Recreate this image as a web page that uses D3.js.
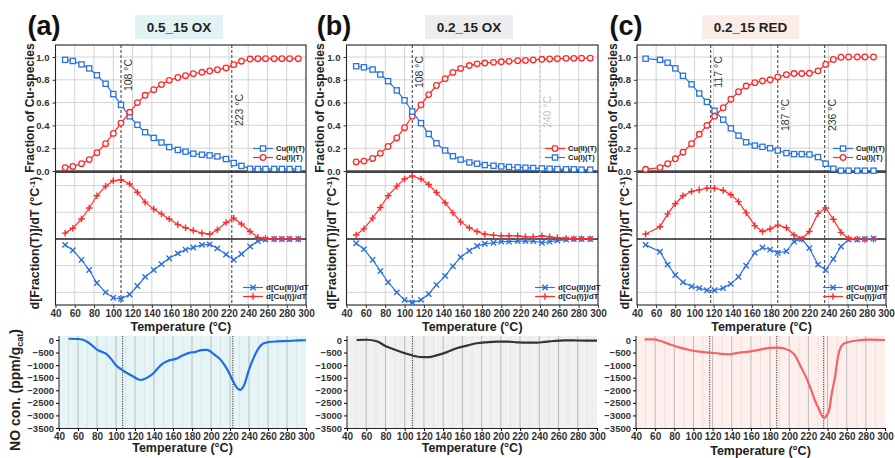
<!DOCTYPE html>
<html lang="en">
<head>
<meta charset="UTF-8">
<title>Cu species fractions</title>
<script src="https://d3js.org/d3.v7.min.js"></script>
<style>
    body { margin: 0; background: #fff; }
    text { font-family: "Liberation Sans", Arial, sans-serif; }
</style>
</head>
<body>
<script>
    // temperatures of the fitted points (°C)
    var tempsAB = [50, 58, 67, 75, 83, 92, 100, 108, 117, 125, 133, 142, 150, 158, 167, 175, 183, 192, 200, 208, 217, 225, 233, 242, 250, 258, 267, 275, 283, 292];
    var tempsC = [49, 64, 72, 80, 88, 97, 105, 113, 121, 130, 138, 146, 154, 163, 171, 179, 187, 196, 204, 212, 220, 229, 237, 245, 253, 261, 270, 278, 287];

    // (a) 0.5_15 OX
    var cu2A = [0.975, 0.965, 0.935, 0.90, 0.84, 0.765, 0.675, 0.58, 0.48, 0.405, 0.34, 0.29, 0.25, 0.21, 0.185, 0.17, 0.152, 0.143, 0.137, 0.128, 0.105, 0.07, 0.045, 0.02, 0.018, 0.018, 0.018, 0.018, 0.018, 0.018];
    var cu1A = [0.03, 0.04, 0.064, 0.10, 0.16, 0.24, 0.33, 0.42, 0.515, 0.60, 0.664, 0.713, 0.758, 0.795, 0.82, 0.836, 0.854, 0.866, 0.877, 0.889, 0.904, 0.933, 0.963, 0.982, 0.985, 0.985, 0.985, 0.985, 0.985, 0.985];
    // derivatives, in 1e-3 /°C
    var dCu2A = [-1.1, -2.1, -3.9, -5.8, -8.25, -10.0, -11.0, -11.2, -10.4, -8.8, -7.1, -5.8, -4.7, -3.6, -2.7, -2.0, -1.6, -1.1, -1.0, -1.75, -2.9, -3.9, -2.8, -1.4, -0.4, -0.1, 0, 0, 0, 0];
    var dCu1A = [1.1, 2.0, 3.75, 5.8, 8.1, 9.9, 10.9, 11.1, 10.3, 8.75, 6.9, 5.6, 4.7, 3.75, 2.7, 2.1, 1.6, 1.1, 0.9, 1.7, 3.1, 3.9, 2.8, 1.4, 0.3, 0.1, 0, 0, 0, 0];
    var noTempA = [50, 60, 65, 70, 75, 80, 85, 90, 95, 100, 106, 112, 118, 122, 126, 130, 135, 140, 145, 150, 156, 163, 170, 177, 184, 190, 196, 201, 205, 210, 215, 220, 224, 228, 231, 235, 240, 245, 250, 255, 261, 270, 280, 292, 300];
    var noA = [50, 40, 10, -80, -220, -380, -470, -560, -760, -1000, -1180, -1320, -1450, -1540, -1590, -1550, -1450, -1300, -1080, -920, -810, -750, -620, -510, -470, -400, -390, -500, -620, -780, -1040, -1380, -1700, -1930, -1980, -1780, -1180, -700, -330, -140, -80, -55, -40, -15, -10];

    // (b) 0.2_15 OX
    var redB = [0.08, 0.087, 0.11, 0.155, 0.215, 0.29, 0.38, 0.48, 0.58, 0.67, 0.75, 0.81, 0.865, 0.90, 0.925, 0.94, 0.947, 0.953, 0.958, 0.962, 0.968, 0.97, 0.974, 0.98, 0.983, 0.985, 0.988, 0.988, 0.99, 0.99];
    var blueB = [0.919, 0.91, 0.89, 0.846, 0.788, 0.707, 0.62, 0.522, 0.42, 0.325, 0.243, 0.18, 0.13, 0.10, 0.075, 0.064, 0.052, 0.046, 0.04, 0.035, 0.032, 0.029, 0.026, 0.023, 0.02, 0.017, 0.015, 0.015, 0.012, 0.012];
    var dCu2B = [-0.8, -1.9, -3.9, -6.0, -8.1, -10.0, -11.4, -11.9, -11.4, -10.3, -8.6, -6.9, -5.1, -3.4, -2.2, -1.3, -0.9, -0.7, -0.5, -0.5, -0.4, -0.4, -0.4, -0.7, -0.5, -0.3, -0.1, 0, 0, 0];
    var dCu1B = [0.75, 1.9, 3.9, 5.9, 8.1, 9.9, 11.25, 11.8, 11.25, 10.2, 8.7, 6.8, 4.9, 3.2, 2.1, 1.4, 0.9, 0.7, 0.6, 0.6, 0.6, 0.4, 0.4, 0.6, 0.4, 0.25, 0.1, 0.05, 0.05, 0.05];
    var noTempB = [50, 60, 71, 81, 92, 102, 109, 116, 125, 133, 144, 154, 165, 175, 185, 196, 206, 217, 227, 238, 245, 255, 266, 280, 300];
    var noB = [0, 10, -50, -260, -416, -546, -625, -677, -680, -611, -481, -325, -221, -130, -91, -65, -65, -91, -104, -104, -78, -39, -13, -20, -26];

    // (c) 0.2_15 RED
    var cu2C = [0.985, 0.975, 0.95, 0.90, 0.835, 0.76, 0.68, 0.606, 0.528, 0.45, 0.374, 0.31, 0.252, 0.223, 0.212, 0.20, 0.18, 0.157, 0.148, 0.148, 0.145, 0.122, 0.064, 0.02, 0.003, 0.003, 0.003, 0.003, 0.003];
    var cu1C = [0.015, 0.03, 0.064, 0.107, 0.165, 0.24, 0.322, 0.40, 0.48, 0.555, 0.63, 0.695, 0.745, 0.775, 0.79, 0.80, 0.825, 0.845, 0.855, 0.855, 0.857, 0.878, 0.935, 0.978, 0.998, 1.0, 1.0, 1.0, 1.0];
    var dCu2C = [-1.1, -2.4, -4.8, -6.75, -8.1, -8.9, -9.2, -9.6, -9.6, -9.2, -8.4, -7.1, -5.0, -2.6, -1.6, -2.0, -2.6, -2.3, -0.5, 0, -1.7, -4.8, -5.8, -3.75, -1.4, -0.1, -0.1, 0, 0.1];
    var dCu1C = [0.94, 2.3, 4.7, 6.6, 8.1, 8.9, 9.2, 9.5, 9.5, 9.1, 8.3, 7.0, 4.9, 2.5, 1.4, 1.9, 2.6, 2.1, 0.75, 0, 1.4, 4.8, 5.8, 3.7, 1.25, 0.1, 0, -0.1, -0.05];
    var noTempC = [49, 58, 66, 75, 86, 96, 106, 117, 127, 137, 148, 158, 168, 179, 188, 195, 201, 206, 210, 213, 217, 222, 227, 231, 234, 236.5, 239, 242, 244, 248, 251, 256, 262, 272, 282, 300];
    var noC = [26, 26, -40, -172, -304, -396, -462, -502, -541, -568, -502, -462, -396, -317, -304, -343, -436, -607, -898, -1136, -1426, -1890, -2417, -2747, -3011, -3104, -3011, -2747, -2219, -1426, -634, -172, -79, -13, 13, 0];

    var xTicks = [40, 60, 80, 100, 120, 140, 160, 180, 200, 220, 240, 260, 280, 300];
    var fracTicks = [0, 0.2, 0.4, 0.6, 0.8, 1.0];
    var derivGrid = [-10, -5, 5, 10];
    var noTicks = [0, -500, -1000, -1500, -2000, -2500, -3000, -3500];

    var BLUE = "#2a72e0", RED = "#ff2b2b";

    var panels = [
        {
            tag: "(a)", tagX: 44, title: "0.5_15 OX", boxX: 135, boxW: 88, boxFill: "#e1f3f3",
            x0: 55.5, x1: 306, bx0: 59, bx1: 306, temps: tempsAB,
            top: [{ name: "Cu(II)(T)", vals: cu2A, color: BLUE, shape: "square" },
                  { name: "Cu(I)(T)", vals: cu1A, color: RED, shape: "circle" }],
            mid: [{ name: "d[Cu(II)]/dT", vals: dCu2A, color: BLUE, shape: "x" },
                  { name: "d[Cu(I)]/dT", vals: dCu1A, color: RED, shape: "plus" }],
            marks: [{ t: 108, label: "108 °C", ly: 75 }, { t: 223, label: "223 °C", ly: 110 }],
            noT: noTempA, no: noA, noColor: "#1b6fe2", noBg: "#e5f5f6", noMarks: [107, 223],
            yTitleX: 34, midTitleX: 39, bottomTitleY: 452, noTitle: true
        },
        {
            tag: "(b)", tagX: 334, title: "0.2_15 OX", boxX: 425, boxW: 88, boxFill: "#ededed",
            x0: 346.5, x1: 598, bx0: 347, bx1: 597, temps: tempsAB,
            top: [{ name: "Cu(II)(T)", vals: redB, color: RED, shape: "circle" },
                  { name: "Cu(I)(T)", vals: blueB, color: BLUE, shape: "square" }],
            mid: [{ name: "d[Cu(II)]/dT", vals: dCu2B, color: BLUE, shape: "x" },
                  { name: "d[Cu(I)]/dT", vals: dCu1B, color: RED, shape: "plus" }],
            marks: [{ t: 108, label: "108 °C", ly: 72 }, { t: 240, label: "240 °C", ly: 112, faint: true }],
            noT: noTempB, no: noB, noColor: "#333333", noBg: "#f0f0f0", noMarks: [108],
            yTitleX: 324, midTitleX: 336, bottomTitleY: 452, noTitle: false
        },
        {
            tag: "(c)", tagX: 626, title: "0.2_15 RED", boxX: 702, boxW: 97, boxFill: "#fcece7",
            x0: 637, x1: 886, bx0: 636, bx1: 885, temps: tempsC,
            top: [{ name: "Cu(II)(T)", vals: cu2C, color: BLUE, shape: "square" },
                  { name: "Cu(I)(T)", vals: cu1C, color: RED, shape: "circle" }],
            mid: [{ name: "d[Cu(II)]/dT", vals: dCu2C, color: BLUE, shape: "x" },
                  { name: "d[Cu(I)]/dT", vals: dCu1C, color: RED, shape: "plus" }],
            marks: [{ t: 117, label: "117 °C", ly: 72 }, { t: 187, label: "187 °C", ly: 115 }, { t: 236, label: "236 °C", ly: 115 }],
            noT: noTempC, no: noC, noColor: "#f36565", noBg: "#fdf0ec", noMarks: [117, 187, 236],
            yTitleX: 617, midTitleX: 629, bottomTitleY: 455, noTitle: false
        }
    ];

    var svg = d3.select("body").append("svg")
        .attr("width", 895).attr("height", 458)
        .style("background", "#fff");

    var TOP0 = 45, TOP1 = 171.6, MID1 = 305;
    var yTop = d3.scaleLinear().domain([0, 1]).range([171, 57]);
    var yMid = d3.scaleLinear().domain([-5, 5]).range([239 + 26.7, 239 - 26.7]);
    var yNo = d3.scaleLinear().domain([-3500, 0]).range([428, 340]);

    function drawMarker(g, shape, color, x, y) {
        if (shape === "square") {
            g.append("rect").attr("x", x - 2.6).attr("y", y - 2.6).attr("width", 5.2).attr("height", 5.2)
                .attr("fill", "#fff").attr("stroke", color).attr("stroke-width", 1.3);
        } else if (shape === "circle") {
            g.append("circle").attr("cx", x).attr("cy", y).attr("r", 2.8)
                .attr("fill", "#fff").attr("stroke", color).attr("stroke-width", 1.3);
        } else if (shape === "plus") {
            g.append("path").attr("d", "M" + (x - 3.3) + "," + y + "H" + (x + 3.3) + "M" + x + "," + (y - 3.3) + "V" + (y + 3.3))
                .attr("stroke", color).attr("stroke-width", 1.4).attr("fill", "none");
        } else {
            g.append("path").attr("d", "M" + (x - 2.7) + "," + (y - 2.7) + "L" + (x + 2.7) + "," + (y + 2.7) + "M" + (x - 2.7) + "," + (y + 2.7) + "L" + (x + 2.7) + "," + (y - 2.7))
                .attr("stroke", color).attr("stroke-width", 1.4).attr("fill", "none");
        }
    }

    panels.forEach(function (p) {
        var x = d3.scaleLinear().domain([40, 300]).range([p.x0, p.x1]);
        var xb = d3.scaleLinear().domain([40, 300]).range([p.bx0, p.bx1]);
        var g = svg.append("g");

        // tag and sample title
        g.append("text").attr("x", p.tagX).attr("y", 35).attr("text-anchor", "middle")
            .attr("font-size", 27).attr("font-weight", "bold").attr("fill", "#111").text(p.tag);
        g.append("rect").attr("x", p.boxX).attr("y", 15).attr("width", p.boxW).attr("height", 24).attr("fill", p.boxFill);
        g.append("text").attr("x", p.boxX + p.boxW / 2).attr("y", 32).attr("text-anchor", "middle")
            .attr("font-size", 13.5).attr("font-weight", "bold").attr("fill", "#222").text(p.title);

        // grids
        g.selectAll(".vg").data(xTicks.slice(1, -1)).enter().append("line")
            .attr("x1", function (d) { return x(d); }).attr("x2", function (d) { return x(d); })
            .attr("y1", TOP0).attr("y2", MID1).attr("stroke", "#cfcfcf").attr("stroke-width", 0.9);
        g.selectAll(".hg").data(fracTicks.slice(1)).enter().append("line")
            .attr("x1", p.x0).attr("x2", p.x1)
            .attr("y1", function (d) { return yTop(d); }).attr("y2", function (d) { return yTop(d); })
            .attr("stroke", "#cfcfcf").attr("stroke-width", 0.9);
        g.selectAll(".mg").data(derivGrid).enter().append("line")
            .attr("x1", p.x0).attr("x2", p.x1)
            .attr("y1", function (d) { return yMid(d); }).attr("y2", function (d) { return yMid(d); })
            .attr("stroke", "#cfcfcf").attr("stroke-width", 0.9);

        // frames
        g.append("rect").attr("x", p.x0).attr("y", TOP0).attr("width", p.x1 - p.x0).attr("height", MID1 - TOP0)
            .attr("fill", "none").attr("stroke", "#222").attr("stroke-width", 1.1);
        g.append("line").attr("x1", p.x0).attr("x2", p.x1).attr("y1", TOP1).attr("y2", TOP1)
            .attr("stroke", "#444").attr("stroke-width", 2.6);
        g.append("line").attr("x1", p.x0).attr("x2", p.x1).attr("y1", yMid(0)).attr("y2", yMid(0))
            .attr("stroke", "#222").attr("stroke-width", 1.3);

        // top y axis
        var ay = g.append("g").attr("transform", "translate(" + p.x0 + ",0)")
            .call(d3.axisLeft(yTop).tickValues(fracTicks).tickFormat(d3.format(".1f")).tickSize(3));
        ay.select(".domain").remove();
        ay.selectAll("text").attr("font-size", 9.5).attr("font-weight", "bold").attr("fill", "#333")
            .style("font-family", "Liberation Sans, Arial, sans-serif");
        ay.selectAll("line").attr("stroke", "#333");

        // x axis of middle plot
        var ax = g.append("g").attr("transform", "translate(0," + MID1 + ")")
            .call(d3.axisBottom(x).tickValues(xTicks).tickSize(3).tickPadding(2));
        ax.select(".domain").remove();
        ax.selectAll("text").attr("font-size", 10).attr("font-weight", "bold").attr("fill", "#333")
            .style("font-family", "Liberation Sans, Arial, sans-serif");
        ax.selectAll("line").attr("stroke", "#333");

        // vertical marker lines
        p.marks.forEach(function (m) {
            g.append("line").attr("x1", x(m.t)).attr("x2", x(m.t)).attr("y1", TOP0).attr("y2", MID1)
                .attr("stroke", m.faint ? "#c8c8c8" : "#333").attr("stroke-width", 1)
                .attr("stroke-dasharray", "3,2");
            g.append("text").attr("transform", "translate(" + (x(m.t) + 11) + "," + m.ly + ") rotate(-90)")
                .attr("text-anchor", "middle").attr("font-size", 10.5)
                .attr("fill", m.faint ? "#c4c4c4" : "#333").text(m.label);
        });

        // series
        function drawSeries(list, yScale) {
            list.forEach(function (s) {
                var pts = p.temps.map(function (t, i) { return [t, s.vals[i]]; });
                g.append("path").datum(pts)
                    .attr("d", d3.line().x(function (d) { return x(d[0]); }).y(function (d) { return yScale(d[1]); }))
                    .attr("fill", "none").attr("stroke", s.color).attr("stroke-width", 1.2);
                pts.forEach(function (d) { drawMarker(g, s.shape, s.color, x(d[0]), yScale(d[1])); });
            });
        }
        drawSeries(p.top, yTop);
        drawSeries(p.mid, yMid);

        // legends
        function legend(list, lx, ly, size) {
            list.forEach(function (s, i) {
                var yy = ly + i * 9;
                g.append("line").attr("x1", lx).attr("x2", lx + 20).attr("y1", yy).attr("y2", yy)
                    .attr("stroke", s.color).attr("stroke-width", 1.2);
                drawMarker(g, s.shape, s.color, lx + 10, yy);
                g.append("text").attr("x", lx + 23).attr("y", yy + 2.8).attr("font-size", size)
                    .attr("font-weight", "bold").attr("fill", "#222").text(s.name);
            });
        }
        legend(p.top, p.x1 - 53, 148.5, 7.5);
        legend(p.mid, p.x1 - 63, 287.5, 8);

        // axis titles
        g.append("text").attr("transform", "translate(" + p.yTitleX + "," + 108 + ") rotate(-90)")
            .attr("text-anchor", "middle").attr("font-size", 12).attr("font-weight", "bold").attr("fill", "#222")
            .text("Fraction of Cu-species");
        var mt = g.append("text").attr("transform", "translate(" + p.midTitleX + "," + 243 + ") rotate(-90)")
            .attr("text-anchor", "middle").attr("font-size", 12.5).attr("font-weight", "bold").attr("fill", "#222");
        mt.append("tspan").text("d[Fraction(T)]/dT (°C");
        mt.append("tspan").attr("dy", -4).attr("font-size", 8).text("-1");
        mt.append("tspan").attr("dy", 4).text(")");
        g.append("text").attr("x", (p.x0 + p.x1) / 2).attr("y", 331).attr("text-anchor", "middle")
            .attr("font-size", 12.5).attr("font-weight", "bold").attr("fill", "#222").text("Temperature (°C)");

        // NO concentration plot
        g.append("rect").attr("x", xb(40)).attr("y", 336).attr("width", xb(300) - xb(40)).attr("height", 428 - 336)
            .attr("fill", p.noBg);
        var minor = d3.range(50, 300, 20);
        g.selectAll(".nm").data(minor).enter().append("line")
            .attr("x1", function (d) { return xb(d); }).attr("x2", function (d) { return xb(d); })
            .attr("y1", 336).attr("y2", 428).attr("stroke", "#e0e0e0").attr("stroke-width", 0.8);
        g.selectAll(".nM").data(xTicks.slice(1, -1)).enter().append("line")
            .attr("x1", function (d) { return xb(d); }).attr("x2", function (d) { return xb(d); })
            .attr("y1", 336).attr("y2", 428).attr("stroke", "#b4b4b4").attr("stroke-width", 0.9);
        p.noMarks.forEach(function (t) {
            g.append("line").attr("x1", xb(t)).attr("x2", xb(t)).attr("y1", 336).attr("y2", 428)
                .attr("stroke", "#333").attr("stroke-width", 1).attr("stroke-dasharray", "1.2,1.2");
        });
        var noPts = p.noT.map(function (t, i) { return [t, p.no[i]]; });
        g.append("path").datum(noPts)
            .attr("d", d3.line().curve(d3.curveMonotoneX)
                .x(function (d) { return xb(d[0]); }).y(function (d) { return yNo(d[1]); }))
            .attr("fill", "none").attr("stroke", p.noColor).attr("stroke-width", 2.2);

        var bay = g.append("g").attr("transform", "translate(" + p.bx0 + ",0)")
            .call(d3.axisLeft(yNo).tickValues(noTicks).tickFormat(d3.format("d")).tickSize(3).tickPadding(2));
        bay.select(".domain").attr("d", "M0,336V428").attr("stroke", "#222");
        bay.selectAll("text").attr("font-size", 9.5).attr("font-weight", "bold").attr("fill", "#333")
            .style("font-family", "Liberation Sans, Arial, sans-serif");
        var bax = g.append("g").attr("transform", "translate(0,428)")
            .call(d3.axisBottom(xb).tickValues(xTicks).tickSize(3).tickPadding(1.5));
        bax.select(".domain").attr("stroke", "#222");
        bax.selectAll("text").attr("font-size", 10).attr("font-weight", "bold").attr("fill", "#333")
            .style("font-family", "Liberation Sans, Arial, sans-serif");
        g.append("text").attr("x", (p.bx0 + p.bx1) / 2).attr("y", p.bottomTitleY).attr("text-anchor", "middle")
            .attr("font-size", 12.5).attr("font-weight", "bold").attr("fill", "#222").text("Temperature (°C)");

        if (p.noTitle) {
            var nt = g.append("text").attr("transform", "translate(20,390) rotate(-90)")
                .attr("text-anchor", "middle").attr("font-size", 14).attr("font-weight", "bold").attr("fill", "#222");
            nt.append("tspan").text("NO con. (ppm/g");
            nt.append("tspan").attr("dy", 3).attr("font-size", 9).text("cat");
            nt.append("tspan").attr("dy", -3).text(")");
        }
    });
</script>
</body>
</html>
